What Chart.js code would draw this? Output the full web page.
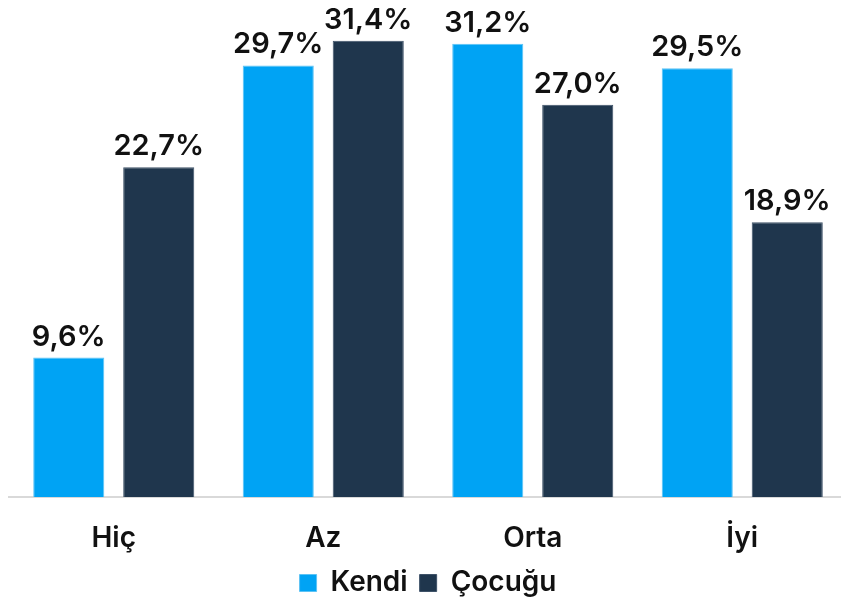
<!DOCTYPE html>
<html>
<head>
<meta charset="utf-8">
<script src="https://cdn.jsdelivr.net/npm/chart.js@4.4.0/dist/chart.umd.min.js"></script>
<style>
  html, body { margin: 0; padding: 0; background: #fff; overflow: hidden; }
  #kutu { width: 850px; height: 607px; }
</style>
</head>
<body>
<div id="kutu"><canvas id="grafik"></canvas></div>
<script>
var kategoriler = ['Hiç', 'Az', 'Orta', 'İyi'];
var kendi = [9.6, 29.7, 31.2, 29.5];
var cocugu = [22.7, 31.4, 27.0, 18.9];
var yEnFazla = 32;

var yaziTipi = "Inter, 'Noto Sans', sans-serif";

// bar ustu etiketler (29,7% gibi)
var etiketler = {
    id: 'etiketler',
    afterDatasetsDraw: function (chart) {
        var ctx = chart.ctx;
        ctx.save();
        ctx.fillStyle = '#111';
        ctx.font = '600 29px ' + yaziTipi;
        ctx.textAlign = 'center';
        ctx.textBaseline = 'alphabetic';
        chart.data.datasets.forEach(function (ds, i) {
            var meta = chart.getDatasetMeta(i);
            meta.data.forEach(function (bar, j) {
                var metin = ds.data[j].toFixed(1).replace('.', ',') + '%';
                ctx.fillText(metin, bar.x, bar.y - 12);
            });
        });
        ctx.restore();
    }
};

new Chart(document.getElementById('grafik'), {
    type: 'bar',
    data: {
        labels: kategoriler,
        datasets: [
            { label: 'Kendi', data: kendi, backgroundColor: '#00A3F4', borderColor: '#5cc3f5', borderWidth: 1 },
            { label: 'Çocuğu', data: cocugu, backgroundColor: '#1F364D', borderColor: '#3e5268', borderWidth: 1 }
        ]
    },
    options: {
        responsive: true,
        maintainAspectRatio: false,
        animation: false,
        categoryPercentage: 0.859,
        barPercentage: 0.79,
        layout: { padding: { left: 9, right: 3, top: 32, bottom: 0 } },
        scales: {
            x: {
                grid: { display: false },
                border: { display: true, color: '#d9d9d9', width: 2 },
                ticks: { color: '#111', font: { family: yaziTipi, size: 28, weight: '600' }, padding: 17 },
                afterFit: function (olcek) { olcek.height = 60; }
            },
            y: {
                display: false,
                min: 0,
                max: yEnFazla
            }
        },
        plugins: {
            tooltip: { enabled: false },
            legend: {
                position: 'bottom',
                labels: {
                    color: '#111',
                    boxWidth: 17,
                    boxHeight: 17,
                    padding: 12,
                    font: { family: yaziTipi, size: 28, weight: '600' }
                }
            }
        }
    },
    plugins: [etiketler]
});
</script>
</body>
</html>
